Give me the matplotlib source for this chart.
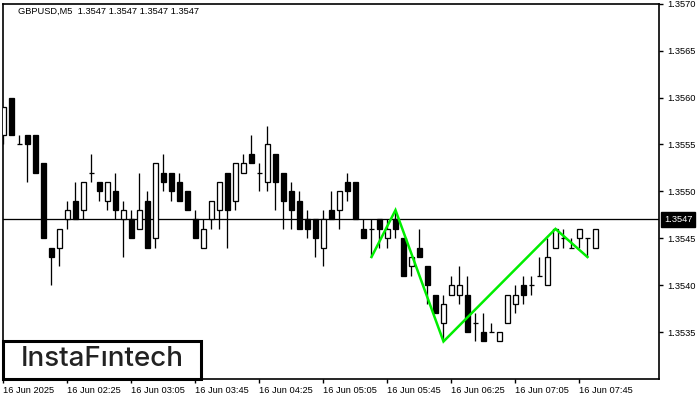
import matplotlib
matplotlib.use("Agg")
import matplotlib.pyplot as plt
from matplotlib.patches import Rectangle
import matplotlib.transforms as mtransforms
import numpy as np

# ---------------- data ----------------
opens = [1.3556, 1.3560, 1.3555, 1.3556, 1.3556, 1.3553, 1.3544, 1.3544, 1.3547, 1.3549,
         1.3548, 1.3552, 1.3551, 1.3549, 1.3550, 1.3547, 1.3547, 1.3546, 1.3549, 1.3545,
         1.3552, 1.3552, 1.3551, 1.3550, 1.3547, 1.3544, 1.3547, 1.3548, 1.3552, 1.3549,
         1.3552, 1.3554, 1.3552, 1.3551, 1.3554, 1.3552, 1.3550, 1.3549, 1.3547, 1.3547,
         1.3544, 1.3548, 1.3548, 1.3551, 1.3551, 1.3546, 1.3546, 1.3547, 1.3545, 1.3547,
         1.3545, 1.3542, 1.3544, 1.3542, 1.3539, 1.3536, 1.3539, 1.3539, 1.3539, 1.3536,
         1.3535, 1.3535, 1.3534, 1.3536, 1.3538, 1.3540, 1.3540, 1.3541, 1.3540, 1.3544,
         1.3545, 1.3544, 1.3545, 1.3545, 1.3544]
highs = [1.3559, 1.3560, 1.3556, 1.3556, 1.3556, 1.3553, 1.3544, 1.3546, 1.3549, 1.3551,
         1.3551, 1.3554, 1.3551, 1.3551, 1.3552, 1.3549, 1.3548, 1.3552, 1.3550, 1.3553,
         1.3554, 1.3552, 1.3552, 1.3550, 1.3548, 1.3547, 1.3549, 1.3551, 1.3552, 1.3553,
         1.3554, 1.3556, 1.3553, 1.3557, 1.3554, 1.3552, 1.3551, 1.3550, 1.3548, 1.3547,
         1.3548, 1.3550, 1.3550, 1.3552, 1.3551, 1.3547, 1.3547, 1.3547, 1.3547, 1.3548,
         1.3545, 1.3543, 1.3546, 1.3542, 1.3539, 1.3539, 1.3541, 1.3542, 1.3541, 1.3537,
         1.3537, 1.3536, 1.3535, 1.3539, 1.3540, 1.3541, 1.3541, 1.3543, 1.3545, 1.3546,
         1.3546, 1.3545, 1.3546, 1.3545, 1.3546]
lows = [1.3555, 1.3556, 1.3555, 1.3551, 1.3552, 1.3545, 1.3540, 1.3542, 1.3546, 1.3547,
        1.3547, 1.3551, 1.3549, 1.3548, 1.3547, 1.3543, 1.3545, 1.3546, 1.3544, 1.3544,
        1.3550, 1.3549, 1.3549, 1.3548, 1.3545, 1.3544, 1.3546, 1.3546, 1.3544, 1.3548,
        1.3552, 1.3553, 1.3550, 1.3550, 1.3548, 1.3546, 1.3546, 1.3546, 1.3545, 1.3543,
        1.3542, 1.3547, 1.3546, 1.3549, 1.3547, 1.3545, 1.3543, 1.3544, 1.3544, 1.3545,
        1.3541, 1.3541, 1.3543, 1.3538, 1.3537, 1.3534, 1.3539, 1.3538, 1.3535, 1.3534,
        1.3534, 1.3535, 1.3534, 1.3536, 1.3537, 1.3538, 1.3539, 1.3541, 1.3540, 1.3544,
        1.3544, 1.3544, 1.3544, 1.3543, 1.3544]
closes = [1.3559, 1.3556, 1.3555, 1.3555, 1.3552, 1.3545, 1.3543, 1.3546, 1.3548, 1.3547,
          1.3551, 1.3552, 1.3550, 1.3551, 1.3548, 1.3548, 1.3545, 1.3548, 1.3544, 1.3553,
          1.3551, 1.3550, 1.3549, 1.3548, 1.3545, 1.3546, 1.3549, 1.3551, 1.3548, 1.3553,
          1.3553, 1.3553, 1.3552, 1.3555, 1.3551, 1.3549, 1.3548, 1.3546, 1.3546, 1.3545,
          1.3547, 1.3547, 1.3550, 1.3550, 1.3547, 1.3545, 1.3546, 1.3546, 1.3546, 1.3546,
          1.3541, 1.3543, 1.3543, 1.3540, 1.3537, 1.3538, 1.3540, 1.3540, 1.3535, 1.3536,
          1.3534, 1.3535, 1.3535, 1.3539, 1.3539, 1.3539, 1.3540, 1.3541, 1.3543, 1.3546,
          1.3545, 1.3544, 1.3546, 1.3545, 1.3546]

pattern_bars = [46, 49, 55, 69, 73]
pattern_prices = [1.3543, 1.3548, 1.3534, 1.3546, 1.3543]

current_price = 1.3547
y_ticks = [1.3535, 1.3540, 1.3545, 1.3550, 1.3555, 1.3560, 1.3565, 1.3570]
x_tick_bars = [0, 8, 16, 24, 32, 40, 48, 56, 64, 72]
x_tick_labels = ["16 Jun 2025", "16 Jun 02:25", "16 Jun 03:05", "16 Jun 03:45",
                 "16 Jun 04:25", "16 Jun 05:05", "16 Jun 05:45", "16 Jun 06:25",
                 "16 Jun 07:05", "16 Jun 07:45"]
title_text = "GBPUSD,M5  1.3547 1.3547 1.3547 1.3547"
logo_text = "InstaF\u0131ntech"

# ---------------- figure ----------------
W, H = 700, 400
fig = plt.figure(figsize=(7, 4), dpi=100)
fig.patch.set_facecolor("white")
ax_l, ax_r, ax_t, ax_b = 3, 659, 3.7, 379
ax = fig.add_axes([ax_l / W, (H - ax_b) / H, (ax_r - ax_l) / W, (ax_b - ax_t) / H])
ax.set_xlim(-0.0625, 81.94)
ax.set_ylim(1.3530, 1.3570)

FONT = "Liberation Sans"
px = 72.0 / 100.0  # one pixel in points
lw1 = 1.3 * px

body_w = 0.6
for i in range(len(opens)):
    o, h, l, c = opens[i], highs[i], lows[i], closes[i]
    if h > l:
        ax.vlines(i, l, h, color="black", lw=lw1, zorder=2)
    if abs(c - o) < 1e-9:
        ax.hlines(o, i - body_w / 2, i + body_w / 2, color="black", lw=lw1, zorder=3)
    else:
        fc = "white" if c > o else "black"
        ax.bar(i, abs(c - o), bottom=min(o, c), width=body_w, facecolor=fc,
               edgecolor="black", linewidth=lw1, zorder=3)

ax.axhline(current_price, color="black", lw=lw1, zorder=1)
ax.plot(pattern_bars, pattern_prices, color="#00ee00", lw=1.8, zorder=4,
        solid_joinstyle="miter")

# axes styling
for s in ax.spines.values():
    s.set_linewidth(1.2)
    s.set_color("black")
ax.yaxis.tick_right()
ax.set_yticks(y_ticks)
ax.set_yticklabels([f"{v:.4f}" for v in y_ticks])
ax.set_xticks(x_tick_bars)
ax.set_xticklabels(x_tick_labels, ha="left")
ax.tick_params(axis="y", direction="out", length=3, width=1, pad=3,
               labelsize=6.7, colors="black")
ax.tick_params(axis="x", direction="out", length=3, width=1, pad=2,
               labelsize=6.7, colors="black")
for lab in ax.get_xticklabels() + ax.get_yticklabels():
    lab.set_fontfamily(FONT)

# title inside chart
ax.text((18 - ax_l) / (ax_r - ax_l), (ax_b - 11) / (ax_b - ax_t), title_text,
        transform=ax.transAxes, fontsize=6.7, family=FONT, color="black",
        ha="left", va="center")

# current price label on the right
trans = mtransforms.blended_transform_factory(ax.transAxes, ax.transData)
ax.text(1.0 + 5 / (ax_r - ax_l), current_price, f"{current_price:.4f}",
        transform=trans, fontsize=6.7, family=FONT, color="white",
        ha="left", va="center", clip_on=False,
        bbox=dict(boxstyle="square,pad=0.3", facecolor="black", edgecolor="black"))

# logo box
bx0, by0, bx1, by1 = 3, 340.5, 201, 378.5
fig.patches.append(Rectangle((bx0 / W, (H - by1) / H), (bx1 - bx0) / W, (by1 - by0) / H,
                             transform=fig.transFigure, facecolor="white",
                             edgecolor="black", linewidth=2.2, zorder=10))
fig.text((bx0 + bx1) / 2 / W, (H - (by0 + by1) / 2) / H, logo_text,
         fontsize=20, family="Inter", fontweight="medium", color="#222222",
         ha="center", va="center", zorder=11)

fig.savefig("out.png", dpi=100, facecolor="white")
